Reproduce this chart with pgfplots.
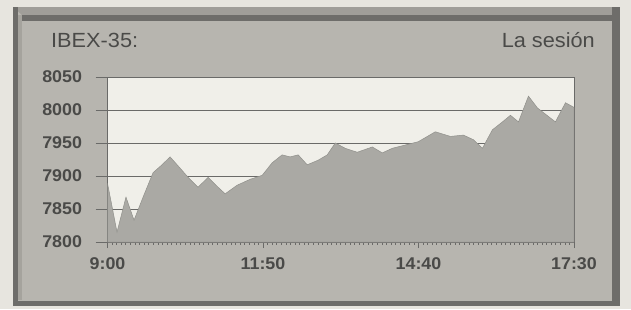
\documentclass[border=0pt]{standalone}
\usepackage{pgfplots}
\pgfplotsset{compat=1.18}
\usepackage{fontspec}
\setmainfont{Liberation Sans}
\newfontfamily\tickfont[FakeStretch=1.05]{Liberation Sans}
\newfontfamily\titlefont[FakeStretch=1.06]{Liberation Sans}
\definecolor{outerbg}{HTML}{E7E5DF}
\definecolor{panel}{HTML}{B7B5AF}
\definecolor{plotbg}{HTML}{F0EFE9}
\definecolor{areafill}{HTML}{AAA9A4}
\definecolor{gridc}{HTML}{6A6A68}
\definecolor{framedark}{HTML}{6E6D6A}
\definecolor{framemid}{HTML}{A09E99}
\definecolor{txt}{HTML}{4A4A48}
\begin{document}
\begin{tikzpicture}[x=1pt,y=1pt]
\useasboundingbox (0,0) rectangle (631,309);
\fill[outerbg] (0,0) rectangle (631,309);
% frame panel
\fill[panel] (13,3) rectangle (620,302);
\fill[framemid] (13,302) -- (620,302) -- (612,294) -- (22,294) -- cycle;
\fill[framedark] (22,294) -- (612,294) -- (612,288) -- (22,288) -- cycle;
\fill[framedark] (13,3) rectangle (18,302);
\fill[framemid!80!panel] (18,9) rectangle (22,294);
\fill[framedark] (612,3) rectangle (620,302);
\fill[framedark] (13,3) rectangle (620,8);
% titles
\node[anchor=base west, inner sep=0pt, text=txt, font=\titlefont\fontsize{20.5}{24}\selectfont] at (51,262) {IBEX-35:};
\node[anchor=base east, inner sep=0pt, text=txt, font=\titlefont\fontsize{20.5}{24}\selectfont] at (595,262) {La sesión};
\begin{axis}[
  at={(107.5pt,67pt)}, anchor=south west,
  scale only axis, width=466.5pt, height=165pt,
  xmin=0, xmax=510, ymin=7800, ymax=8050,
  xtick={0,170,340,510},
  xticklabels={9:00,11:50,14:40,17:30},
  minor x tick num=33,
  ytick={7800,7850,7900,7950,8000,8050},
  tick pos=left,
  ymajorgrids, grid style={gridc, line width=0.8pt},
  axis background/.style={fill=plotbg},
  axis line style={gridc, line width=0.8pt},
  every tick/.style={gridc, line width=0.6pt},
  xtick align=center, ytick align=outside,
  major tick length=12pt, minor tick length=5pt,
  xticklabel style={font=\tickfont\bfseries\fontsize{17}{20}\selectfont, text=txt, yshift=-6pt},
  yticklabel style={font=\tickfont\bfseries\fontsize{17}{20}\selectfont, text=txt, xshift=-10pt},
  yticklabel={\pgfmathprintnumber[1000 sep={}]{\tick}},
  tick label style={/pgf/number format/assume math mode=true},
]
\addplot[fill=areafill, draw=areafill!85!black, line width=0.5pt] table {
x y
0 7889
10.4 7815
20.2 7868
29.0 7833
38.9 7868
49.8 7905
59.6 7917
68.4 7929
79.3 7912
88.1 7898
99.0 7883
110.0 7898
120.9 7883
128.6 7873
141.7 7886
155.9 7895
169.1 7901
180.0 7920
190.9 7932
199.7 7929
208.5 7932
218.3 7917
230.4 7924
240.2 7932
249.0 7950
259.9 7942
273.0 7936
289.5 7944
300.4 7935
311.4 7942
325.6 7947
339.8 7952
358.4 7967
374.8 7960
389.1 7962
400.0 7955
409.9 7942
420.8 7970
431.8 7982
440.5 7992
449.3 7982
460.2 8021
470.1 8003
489.7 7982
500.7 8011
510 8004
} \closedcycle;
\end{axis}
\end{tikzpicture}
\end{document}
